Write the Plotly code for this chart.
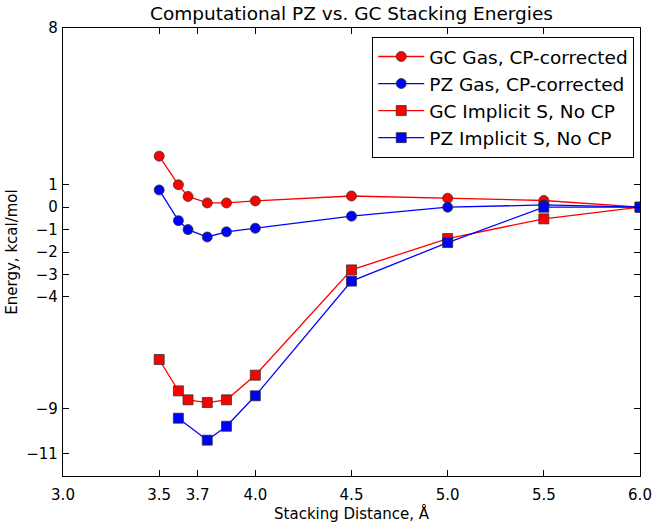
import plotly.graph_objects as go

# stacking distances (Angstrom)
dist_gas = [3.5, 3.6, 3.65, 3.75, 3.85, 4.0, 4.5, 5.0, 5.5, 6.0]
dist_pz_imp = [3.6, 3.75, 3.85, 4.0, 4.5, 5.0, 5.5, 6.0]

# energies, kcal/mol
gc_gas = [2.28, 1.0, 0.48, 0.19, 0.19, 0.28, 0.5, 0.4, 0.3, 0.0]
pz_gas = [0.77, -0.6, -1.0, -1.33, -1.1, -0.94, -0.4, 0.0, 0.1, 0.0]
gc_imp = [-6.8, -8.2, -8.6, -8.72, -8.6, -7.5, -2.8, -1.4, -0.52, 0.0]
pz_imp = [-9.42, -10.4, -9.78, -8.42, -3.3, -1.58, 0.0, 0.0]

x_ticks = [3.0, 3.5, 3.7, 4.0, 4.5, 5.0, 5.5, 6.0]
y_ticks = [8, 1, 0, -1, -2, -3, -4, -9, -11]

RED = "#ff0000"
BLUE = "#0000ff"
FONT = "DejaVu Sans"


def series(x, y, name, color, symbol):
    return go.Scatter(
        x=x, y=y, name=name, mode="lines+markers",
        line=dict(color=color, width=1.3),
        marker=dict(color=color, symbol=symbol, size=10,
                    line=dict(color="#333333", width=0.8)),
    )


data = [
    series(dist_gas, gc_gas, "GC Gas, CP-corrected", RED, "circle"),
    series(dist_gas, pz_gas, "PZ Gas, CP-corrected", BLUE, "circle"),
    series(dist_gas, gc_imp, "GC Implicit S, No CP", RED, "square"),
    series(dist_pz_imp, pz_imp, "PZ Implicit S, No CP", BLUE, "square"),
]

axis_common = dict(
    showline=True, linecolor="black", linewidth=1.2, mirror="ticks",
    ticks="inside", ticklen=6, tickcolor="black", tickwidth=1,
    showgrid=False, zeroline=False, automargin=False,
    tickfont=dict(family=FONT, size=15, color="black"),
)

layout = go.Layout(
    width=661, height=529,
    margin=dict(l=63, r=21, t=28, b=53),
    paper_bgcolor="white", plot_bgcolor="white",
    font=dict(family=FONT, color="black"),
    title=dict(text="Computational PZ vs. GC Stacking Energies",
               x=0.5, xref="paper", y=0.975, yanchor="middle",
               font=dict(family=FONT, size=18.5, color="black")),
    xaxis=dict(range=[3.0, 6.0], tickvals=x_ticks,
               ticktext=[f"{v:.1f}" for v in x_ticks],
               ticklabelstandoff=5,
               title=dict(text="Stacking Distance, Å", standoff=3,
                          font=dict(family=FONT, size=15)),
               **axis_common),
    yaxis=dict(range=[-12, 8], tickvals=y_ticks,
               ticktext=[str(v).replace("-", "\u2212") for v in y_ticks],
               ticklabelstandoff=1,
               title=dict(text="Energy, kcal/mol", standoff=4,
                          font=dict(family=FONT, size=15)),
               **axis_common),
    legend=dict(x=0.99, y=0.98, xanchor="right", yanchor="top",
                bgcolor="white", bordercolor="black", borderwidth=1,
                font=dict(family=FONT, size=18.5, color="black"),
                tracegroupgap=0, itemwidth=46),
    showlegend=True,
)

fig = go.Figure(data=data, layout=layout)
fig.write_html("out.html", config={"displayModeBar": False},
               post_script="document.body.style.margin='0';")
